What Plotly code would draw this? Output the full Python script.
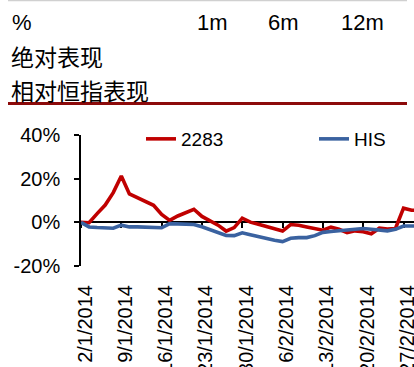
import pandas as pd
import plotly.graph_objects as go

# ---- data ----
dates = [d.strftime("%-d/%-m/%Y") for d in pd.bdate_range("2014-01-02", "2014-03-03")]
stock_2283 = [0.0, -0.2, 4.0, 7.9, 13.6, 21.2, 13.0, 11.4, 9.8, 7.8, 3.6, 0.9, 2.9, 4.5, 6.0,
              2.7, 0.5, -1.3, -4.0, -2.4, 1.9, 0.1, -0.9, -2.0, -3.0, -4.0, -1.0, -1.3, -2.1,
              -2.7, -3.6, -2.2, -3.2, -4.7, -3.9, -4.3, -5.2, -2.7, -3.1, -2.8, 6.5, 5.5, 5.5]
his = [0.0, -2.1, -2.4, -2.6, -2.7, -1.3, -2.1, -2.1, -2.1, -2.3, -2.5, -0.6, -0.8, -1.1, -1.0,
       -2.0, -3.3, -4.4, -6.0, -6.1, -4.8, -5.7, -6.6, -7.5, -8.2, -8.8, -7.3, -7.0, -7.0,
       -6.1, -4.6, -4.2, -3.8, -3.3, -3.2, -2.8, -3.2, -3.6, -3.9, -3.2, -1.7, -1.7, -1.7]
tick_dates = ["2/1/2014", "9/1/2014", "16/1/2014", "23/1/2014", "30/1/2014",
              "6/2/2014", "13/2/2014", "20/2/2014", "27/2/2014"]
y_ticks = [-20, 0, 20, 40]
y_tick_text = ["-20%", "0%", "20%", "40%"]
header_cols = ["1m", "6m", "12m"]
row_labels = ["绝对表现", "相对恒指表现"]

W, H = 414, 367
L, T, B = 81, 135, 101
PW, PH = W - L, H - T - B

def px(x):
    return (x - L) / PW

def py(y):
    return (H - B - y) / PH

FONT = "Liberation Sans, Arial, sans-serif"
CJK = "Noto Sans CJK SC"

fig = go.Figure()
fig.add_trace(go.Scatter(x=dates, y=stock_2283, name="2283", mode="lines", legend="legend",
                         line=dict(color="#C00000", width=3.6)))
fig.add_trace(go.Scatter(x=dates, y=his, name="HIS", mode="lines", legend="legend2",
                         line=dict(color="#3A62A0", width=3.6)))
# invisible helper so the bottom label axis knows the categories
fig.add_trace(go.Scatter(x=dates, y=[0] * len(dates), xaxis="x2", mode="lines",
                         line=dict(width=0), opacity=0, showlegend=False, hoverinfo="skip"))

annotations = [
    dict(text="%", x=px(10), y=py(22), xanchor="left", yanchor="middle",
         font=dict(family=FONT, size=22, color="black")),
]
for txt, cx in zip(header_cols, [212, 283, 362]):
    annotations.append(dict(text=txt, x=px(cx), y=py(22), xanchor="center", yanchor="middle",
                            font=dict(family=FONT, size=22, color="black")))
for txt, cy in zip(row_labels, [56, 90]):
    annotations.append(dict(text=txt, x=px(9), y=py(cy), xanchor="left", yanchor="middle",
                            font=dict(family=CJK, size=23, color="black")))
for a in annotations:
    a.update(xref="paper", yref="paper", showarrow=False)

shapes = [
    dict(type="line", xref="paper", yref="paper", x0=px(8), x1=px(407), y0=py(0.5), y1=py(0.5),
         line=dict(color="#D0D0D0", width=1.5)),
    dict(type="line", xref="paper", yref="paper", x0=px(8), x1=px(407), y0=py(103.5), y1=py(103.5),
         line=dict(color="#8C0A0A", width=3)),
]

yr = [-20, 40]
zero_pos = (0 - yr[0]) / (yr[1] - yr[0])
legend_font = dict(family=FONT, size=19, color="black")

fig.update_layout(
    template="none",
    width=W, height=H,
    margin=dict(l=L, r=0, t=T, b=B, pad=0),
    paper_bgcolor="white", plot_bgcolor="white",
    font=dict(family=FONT, color="black"),
    showlegend=True,
    legend=dict(orientation="h", x=px(141), y=py(139), xanchor="left", yanchor="middle",
                font=legend_font, bgcolor="rgba(0,0,0,0)", itemwidth=30),
    legend2=dict(orientation="h", x=px(314), y=py(139), xanchor="left", yanchor="middle",
                 font=legend_font, bgcolor="rgba(0,0,0,0)", itemwidth=30),
    xaxis=dict(type="category", range=[0, 41.3], anchor="free", position=zero_pos,
               showline=True, linecolor="black", linewidth=1.6,
               ticks="outside", ticklen=5, tickwidth=1.6, tickcolor="black",
               tickvals=tick_dates, showticklabels=False, showgrid=False,
               zeroline=False, layer="below traces", automargin=False),
    xaxis2=dict(type="category", overlaying="x", anchor="y", side="bottom",
                range=[-0.5, 40.8], showline=False, ticks="", showgrid=False, zeroline=False,
                tickvals=tick_dates, ticktext=tick_dates, tickangle=-90,
                tickfont=dict(family=FONT, size=20, color="black"),
                ticklabelstandoff=14, automargin=False),
    yaxis=dict(range=yr, tickvals=y_ticks, ticktext=y_tick_text, showline=True, linecolor="black",
               linewidth=1.6, ticks="outside", ticklen=5, tickwidth=1.6, tickcolor="black",
               showgrid=False, zeroline=False, tickfont=dict(family=FONT, size=20, color="black"),
               ticklabelstandoff=10, automargin=False),
    annotations=annotations,
    shapes=shapes,
)

fig.write_html("out.html")
